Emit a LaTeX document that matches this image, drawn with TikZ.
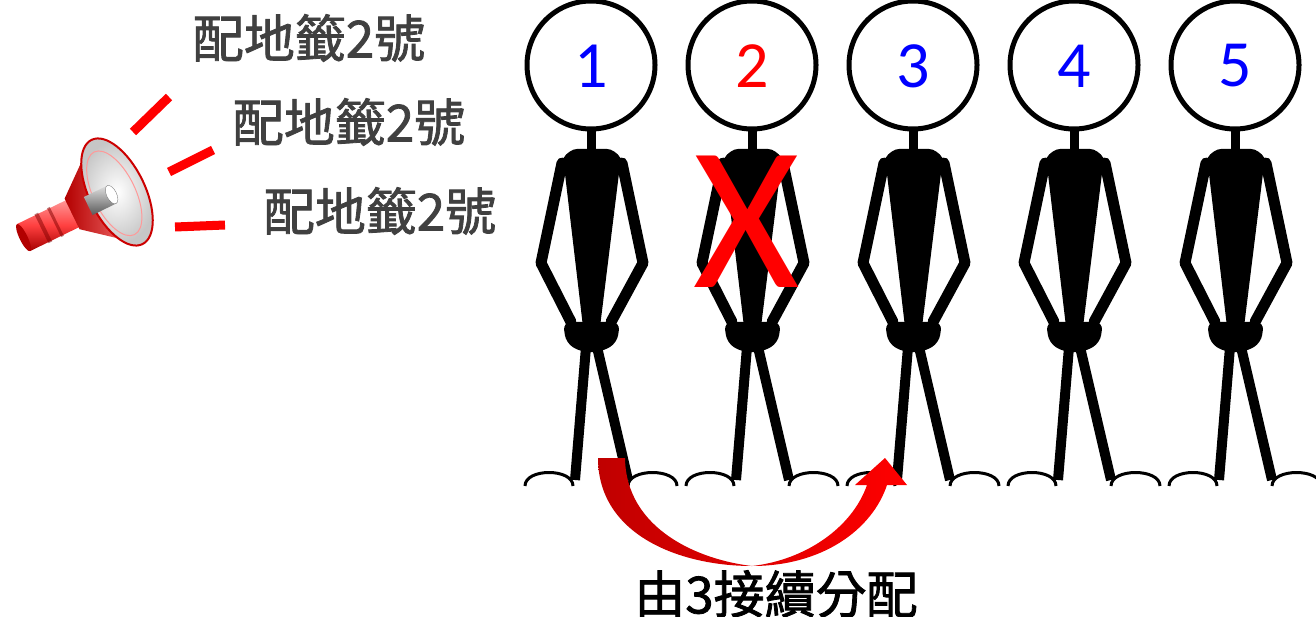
\documentclass[tikz,border=0pt]{standalone}
\usepackage{fontspec}
\newfontfamily\cjk[FakeBold=1.6]{Noto Sans CJK TC}
\newfontfamily\numfont{Carlito}

\tikzset{
  stickman/.pic={
    % Head and neck
    \draw[line width=5pt, fill=white] (0,0) circle (64);
    \draw[line width=9pt] (0,62) -- (0,88);
    % Body and hips
    \fill[rounded corners=4pt] (-28,92) -- (-18,84) -- (20,84) -- (30,92) -- (9,262) -- (-8,262) -- cycle;
    \fill[rounded corners=8pt] (-28,257) -- (29,257) -- (26,278) -- (10,287) -- (-10,287) -- (-25,278) -- cycle;
    % Arms
    \draw[line width=11pt, line join=round, line cap=round] (-29,98) -- (-50,198) -- (-20,257);
    \draw[line width=11pt, line join=round, line cap=round] (31,98) -- (52,198) -- (20,257);
    % Legs
    \draw[line width=10pt] (-5,282) -- (-16,415);
    \draw[line width=10pt] (6,282) -- (37,415);
    % Feet
    \draw[line width=3pt] (-66,421) .. controls (-66,403) and (-18,403) .. (-18,421);
    \draw[line width=3pt] (37,421) .. controls (37,403) and (86,403) .. (86,421);
  },
  numlabel/.style={font=\numfont\fontsize{66}{66}\selectfont},
  calltext/.style={text=textgray, font=\cjk\fontsize{51}{60}\selectfont}
}

\begin{document}
\begin{tikzpicture}[x=1pt, y=-1pt]
  % Define colors
  \definecolor{textgray}{RGB}{64,64,64}
  \definecolor{darkred}{RGB}{192,0,0}
  \definecolor{numblue}{RGB}{0,0,255}

  \useasboundingbox (0,0) rectangle (1316,617);

  % Row of people
  \foreach \i/\x in {1/591, 2/752, 3/913, 4/1074, 5/1235} {
    \pic (man\i) at (\x,65) {stickman};
  }

  % Numbers on the heads
  \node[numlabel, text=numblue] (num1) at (591,66) {1};
  \node[numlabel, text=red] (num2) at (752,66) {2};
  \node[numlabel, text=numblue] (num3) at (913,66) {3};
  \node[numlabel, text=numblue] (num4) at (1074,66) {4};
  \node[numlabel, text=numblue] (num5) at (1235,66) {5};

  % Number 2 is crossed out
  \node[text=red, font=\numfont\fontsize{205}{205}\selectfont] (cross) at (747,222) {X};

  % Megaphone
  \begin{scope}[shift={(117,192)}, rotate=26]
    % handle
    \shade[top color=red!40!white, bottom color=red!65!black, middle color=red!75!white] (-104,-15) rectangle (-48,15);
    \fill[red!50!black, opacity=0.5] (-84,-16) rectangle (-80,16);
    \fill[red!50!black, opacity=0.5] (-70,-16) rectangle (-67,16);
    \fill[red!70!black] (-104,0) ellipse (4 and 15);
    % cone
    \shade[left color=red!70!black, right color=red!50!white] (-50,-17) -- (0,-58) -- (0,58) -- (-50,17) -- cycle;
    % bell opening
    \shade[inner color=white, outer color=gray!45] (0,0) ellipse (28 and 58);
    \draw[red!40!white, line width=1pt] (-3,0) ellipse (21 and 46);
    \draw[red!80!black, line width=2pt] (0,0) ellipse (28 and 58);
    % driver
    \shade[top color=gray!25, bottom color=gray!70!black] (-32,-10) rectangle (-6,10);
    \fill[white, draw=gray] (-6,0) ellipse (5 and 10);
  \end{scope}

  % Sound lines
  \draw[red, line width=9pt] (133,132) -- (169,97);
  \draw[red, line width=9pt] (169,172) -- (213,150);
  \draw[red, line width=9pt] (175,227) -- (225,225);

  % Called numbers
  \node[calltext] (call1) at (309,38) {配地籤2號};
  \node[calltext] (call2) at (349,122) {配地籤2號};
  \node[calltext] (call3) at (380,211) {配地籤2號};

  % Curved arrow from 1 to 3
  \shade[left color=darkred, right color=red]
    (598,458) .. controls (598,535) and (680,566) .. (752,566)
    .. controls (822,566) and (872,530) .. (887,485) -- (907,485) -- (885,458) -- (855,485) -- (867,485)
    .. controls (852,528) and (805,560) .. (752,566)
    .. controls (700,560) and (626,530) .. (625,458) -- cycle;

  % Caption
  \node[font=\cjk\fontsize{51}{60}\selectfont] (caption) at (776,594) {由3接續分配};
\end{tikzpicture}
\end{document}
